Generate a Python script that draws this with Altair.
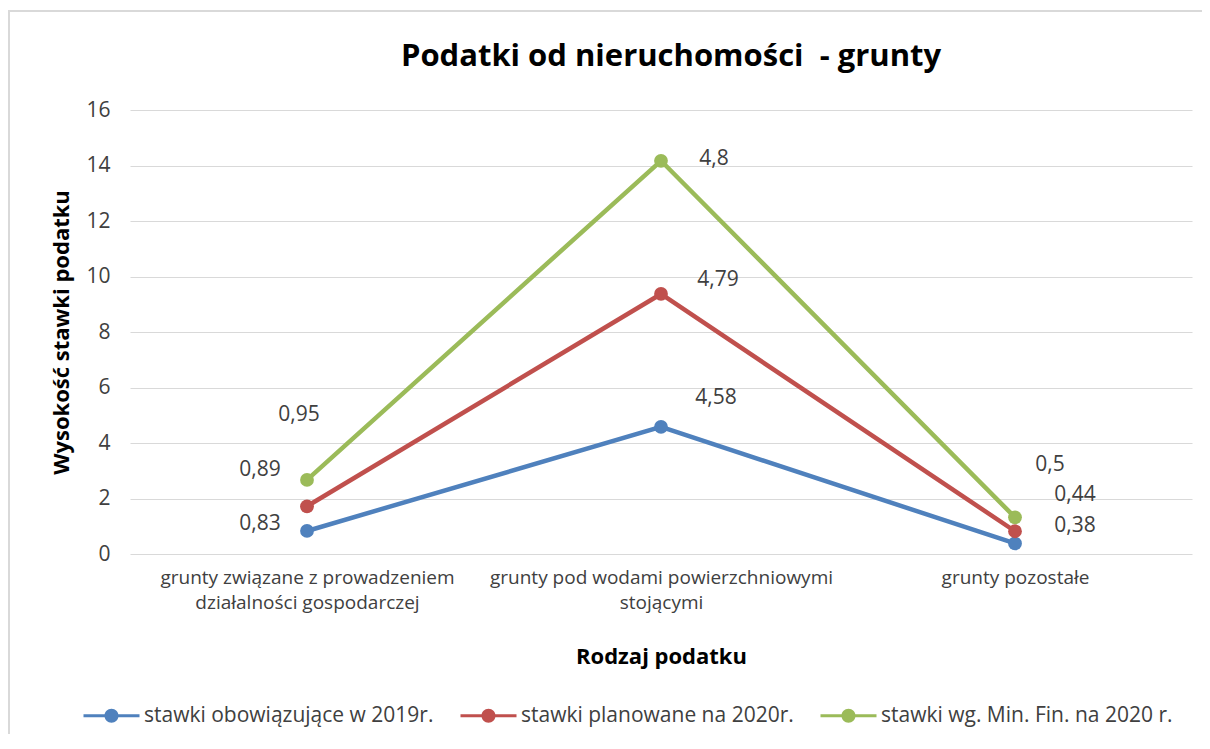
import altair as alt
import pandas as pd

categories = [
    "grunty związane z prowadzeniem działalności gospodarczej",
    "grunty pod wodami powierzchniowymi stojącymi",
    "grunty pozostałe",
]
category_lines = [
    ["grunty związane z prowadzeniem", "działalności gospodarczej"],
    ["grunty pod wodami powierzchniowymi", "stojącymi"],
    ["grunty pozostałe"],
]
series = [
    "stawki obowiązujące w 2019r.",
    "stawki planowane na 2020r.",
    "stawki wg. Min. Fin. na 2020 r.",
]
rates_2019 = [0.83, 4.58, 0.38]
rates_plan_2020 = [0.89, 4.79, 0.44]
rates_mf_2020 = [0.95, 4.8, 0.5]
colors = ["#4F81BD", "#C0504D", "#9BBB59"]
y_ticks = [0, 2, 4, 6, 8, 10, 12, 14, 16]
chart_title = "Podatki od nieruchomości \u00a0- grunty"

rows = []
for si, (s, vals) in enumerate(zip(series, [rates_2019, rates_plan_2020, rates_mf_2020])):
    for ci, (c, v) in enumerate(zip(categories, vals)):
        rows.append({"series": s, "si": si, "cat": c, "ci": ci, "value": v})
df = pd.DataFrame(rows)

FONT = "Open Sans"
W, H = 1062, 444

base = alt.Chart(df).transform_window(
    cum="sum(value)", groupby=["cat"], sort=[{"field": "si"}], frame=[None, 0]
).transform_calculate(
    lbl="replace(toString(datum.value), '.', ',')"
)

label_expr = "datum.label == '{0}' ? {1} : datum.label == '{2}' ? {3} : {4}".format(
    categories[0], str(category_lines[0]), categories[1], str(category_lines[1]), str(category_lines[2])
)

x_scale = alt.Scale(type="point", padding=0.5)
x_enc = alt.X(
    "cat:N", sort=categories, scale=x_scale,
    axis=alt.Axis(
        title="Rodzaj podatku", labelAngle=0, labelExpr=label_expr,
        labelFontSize=19, labelColor="#404040", labelLineHeight=25,
        labelPadding=14, labelLimit=500, ticks=False, domain=False, grid=False,
        titleFontSize=22, titleFontWeight="bold", titleColor="#000000",
        titlePadding=34, labelFont=FONT, titleFont=FONT,
    ),
)
y_enc = alt.Y(
    "cum:Q", scale=alt.Scale(domain=[0, 16], nice=False),
    axis=alt.Axis(
        title="Wysokość stawki podatku", values=y_ticks, labelFontSize=21,
        labelColor="#404040", labelPadding=20, ticks=False, domain=False,
        gridColor="#D9D9D9", gridWidth=1, titleFontSize=22, titleFontWeight="bold",
        titleColor="#000000", titlePadding=12, labelFont=FONT, titleFont=FONT,
    ),
)

border = alt.Chart(pd.DataFrame({"a": [0]})).mark_rect(
    fillOpacity=0, stroke="#D9D9D9", strokeWidth=2, clip=False
).encode(
    x=alt.value(-121), x2=alt.value(1100), y=alt.value(-99), y2=alt.value(700)
)

# stroke scale has a data-driven domain so its (hidden) legend is not merged
# with the colour legend of the points
lines = base.mark_line(strokeWidth=4.5).encode(
    x=x_enc, y=y_enc, detail="series:N",
    stroke=alt.Stroke("series:N", sort=series, scale=alt.Scale(range=colors), legend=None),
    order="ci:Q",
)

legend = alt.Legend(
    title=None, orient="none", direction="horizontal", legendX=-29, legendY=595,
    symbolType=(
        "M-4,-0.21L4,-0.21L4,0.21L-4,0.21Z"
        "M1,0A1,1 0 1,1 -1,0A1,1 0 1,1 1,0Z"
    ),
    symbolSize=196, labelOffset=22, columnPadding=26, padding=0,
    labelFontSize=21, labelColor="#404040", labelFont=FONT,
    labelLimit=500,
)
points = base.mark_point(filled=True, size=190, opacity=1).encode(
    x=alt.X("cat:N", sort=categories, scale=x_scale),
    y=alt.Y("cum:Q"),
    color=alt.Color("series:N", scale=alt.Scale(domain=series, range=colors), legend=legend),
)

offsets = {
    (0, 2): (-8, -65), (0, 1): (-47, -36), (0, 0): (-47, -7),
    (1, 2): (53, -2), (1, 1): (57, -14), (1, 0): (55, -29),
    (2, 2): (35, -52), (2, 1): (60, -36), (2, 0): (60, -17),
}
texts = []
for (ci, si), (dx, dy) in offsets.items():
    texts.append(
        base.transform_filter(f"datum.ci == {ci} && datum.si == {si}").mark_text(
            dx=dx, dy=dy, fontSize=21, color="#404040", font=FONT,
            align="center", baseline="middle",
        ).encode(
            x=alt.X("cat:N", sort=categories, scale=x_scale),
            y=alt.Y("cum:Q"), text="lbl:N",
        )
    )

chart = alt.layer(border, lines, points, *texts).properties(
    width=W, height=H,
    title=alt.Title(
        chart_title, fontSize=31, fontWeight="bold",
        font=FONT, color="#000000", anchor="middle", offset=-63, dx=10, frame="group",
    ),
    autosize=alt.AutoSizeParams(type="none"),
    padding={"left": 122, "top": 102, "right": 10, "bottom": 180},
).configure(background="white", view=alt.ViewConfig(stroke=None))

chart.save("out.html", embed_options={"renderer": "svg", "actions": False})
